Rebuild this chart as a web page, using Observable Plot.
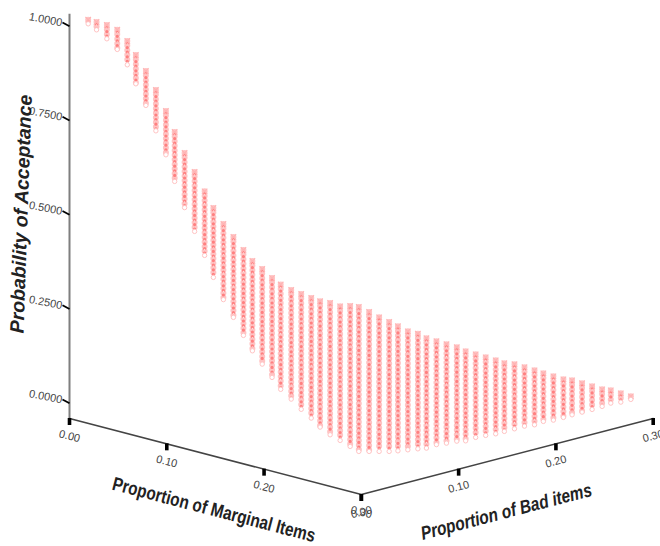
<!DOCTYPE html>
<html><head><meta charset="utf-8">
<script src="https://cdn.jsdelivr.net/npm/d3@7"></script>
<script src="https://cdn.jsdelivr.net/npm/@observablehq/plot@0.6"></script>
<style>html,body{margin:0;padding:0;background:#fff}svg{display:block}</style>
</head><body><div id="chart"></div>
<script>
// Position of each visible column along the floor: proportion marginal + proportion bad
const columnSum = [.0192,.0278,.0384,.0491,.0594,.0682,.0785,.0888,.0991,.1081,.1183,.1286,.1389,.1479,.1582,.1685,.1788,.188,.1981,.2082,.2171,.2279,.2382,.2485,.2576,.2679,.2782,.2885,.2974,.308,.3183,.3286,.3376,.3478,.3581,.3669,.3772,.3875,.3981,.4072,.4175,.4278,.4381,.447,.4574,.4677,.478,.4871,.4974,.5077,.5166,.5269,.5372,.5475,.5564,.5667,.577];
// Upper end of each column, on the probability axis
const columnTop = [1.022,1.0159,1.008,.9955,.9655,.9284,.8859,.8355,.7798,.7241,.6684,.618,.5668,.5225,.4801,.4456,.4111,.382,.3607,.3369,.3196,.305,.2944,.2838,.2753,.2706,.2618,.2626,.2599,.2467,.2326,.2202,.2088,.1955,.1891,.1772,.1692,.1613,.1533,.1424,.1345,.1265,.1186,.1109,.108,.1003,.092,.0841,.0761,.0682,.0655,.0576,.0496,.0416,.039,.031,.0231];
// Lower end of each column, on the probability axis
const columnBottom = [.9981,.9822,.9584,.9302,.8894,.839,.7817,.7143,.6507,.5801,.5106,.4475,.3838,.3255,.2666,.2194,.1716,.1308,.0955,.0602,.0286,.0027,-.0244,-.0477,-.0716,-.092,-.1069,-.1228,-.1361,-.1361,-.1361,-.1361,-.1345,-.1318,-.1292,-.1273,-.118,-.1141,-.1088,-.108,-.0989,-.0936,-.0894,-.083,-.0761,-.069,-.0655,-.0565,-.0531,-.0459,-.039,-.0318,-.0247,-.0167,-.008,-.0053,.0019];

const marginalTicks = [0, .1, .2, .3];
const badTicks = [0, .1, .2, .3];
const probTicks = [0, .25, .5, .75, 1];
const axisFloor = -.0424;   // height of the back floor corner on the probability axis
const depth = .672;         // drop per unit of (marginal - bad)

const columns = columnSum.map((sum, i) => ({sum, top: columnTop[i], bottom: columnBottom[i]}));
const floor = (m, b) => ({x: m + b, y: axisFloor - depth * (m - b)});
const mTicks = marginalTicks.map(m => ({...floor(m, 0), label: m.toFixed(2)}));
const bTicks = badTicks.map(b => ({...floor(.3, b), label: b.toFixed(2)}));
const floorAxis = [floor(0, 0), floor(.3, 0), floor(.3, .3)];
const font = "Liberation Sans, Arial, sans-serif";
const tickDrop = .0186, labelDrop = .047;

const plot = Plot.plot({
  width: 660, height: 546, margin: 0,
  x: {domain: [0, .6], range: [69, 652.7], axis: null},
  y: {domain: [0, 1], range: [402, 25], axis: null},
  marks: [
    // value axis
    Plot.ruleX([0], {y1: 1.03, y2: axisFloor, stroke: "#7f7f7f", strokeWidth: 2}),
    Plot.link(probTicks, {x1: -.0072, x2: 0, y1: d => d + .008, y2: d => d - .002, stroke: "#000", strokeWidth: 1.8}),
    Plot.text(probTicks, {x: -.0075, y: d => d + .007, text: d => d.toFixed(4), textAnchor: "end", rotate: 11,
      fontSize: 11, fontFamily: font, fill: "#444"}),
    // floor axes
    Plot.line(floorAxis, {x: "x", y: "y", stroke: "#444", strokeWidth: 1.6}),
    Plot.ruleX([...mTicks, ...bTicks], {x: "x", y1: "y", y2: d => d.y - tickDrop, stroke: "#000", strokeWidth: 3.6}),
    Plot.text(mTicks, {x: "x", y: d => d.y - labelDrop, text: "label", rotate: 14.6, fontSize: 11, fontFamily: font, fill: "#444"}),
    Plot.text(bTicks, {x: "x", y: d => d.y - labelDrop, text: "label", rotate: -14.6, fontSize: 11, fontFamily: font, fill: "#444"}),
    // columns of plotted points
    Plot.ruleX(columns, {x: "sum", y1: "top", y2: "bottom", insetTop: 3, insetBottom: 3, stroke: "#ffc4c4", strokeWidth: 6, strokeLinecap: "round", strokeDasharray: "0 4.6"}),
    Plot.ruleX(columns, {x: "sum", y1: "top", y2: "bottom", insetTop: 5, insetBottom: 3, stroke: "#ff8080", strokeWidth: 3.2, strokeLinecap: "round", strokeDasharray: "0 4.6"}),
    Plot.ruleX(columns, {x: "sum", y1: "top", y2: "bottom", insetTop: 6, insetBottom: 4, stroke: "#fff", strokeOpacity: .75, strokeWidth: 1.3, strokeLinecap: "round", strokeDasharray: "0 9.2"}),
    Plot.dot(columns, {x: "sum", y: "top", dy: 2.5, symbol: "times", r: 2.6, stroke: "#ffb4b4", strokeWidth: 1.2}),
    Plot.dot(columns, {x: "sum", y: "bottom", dy: -2.4, r: 2.2, stroke: "#ffc4c4", fill: "#fff", strokeWidth: 1}),
    // axis titles
    Plot.text(["Probability of Acceptance"], {x: [-.0495], y: [.5], text: d => d, rotate: -88, fontSize: 19.5, fontWeight: "bold", fontStyle: "italic", fontFamily: font, fill: "#222"}),
    Plot.text(["Proportion of Marginal Items"], {x: [.1485], y: [-.285], text: d => d, rotate: 14.6, fontSize: 19, fontWeight: "bold", fontFamily: font, fill: "#222"}),
    Plot.text(["Proportion of Bad items"], {x: [.449], y: [-.29], text: d => d, rotate: -14.6, fontSize: 19, fontWeight: "bold", fontStyle: "italic", fontFamily: font, fill: "#222"})
  ]
});
// Match the condensed lettering of the two floor titles
d3.select(plot).selectAll("text")
  .filter(function () { return this.textContent === "Proportion of Marginal Items" || this.textContent === "Proportion of Bad items"; })
  .attr("textLength", function () { return this.textContent.includes("Bad") ? 176 : 209; })
  .attr("lengthAdjust", "spacingAndGlyphs");
document.getElementById("chart").append(plot);
</script></body></html>
